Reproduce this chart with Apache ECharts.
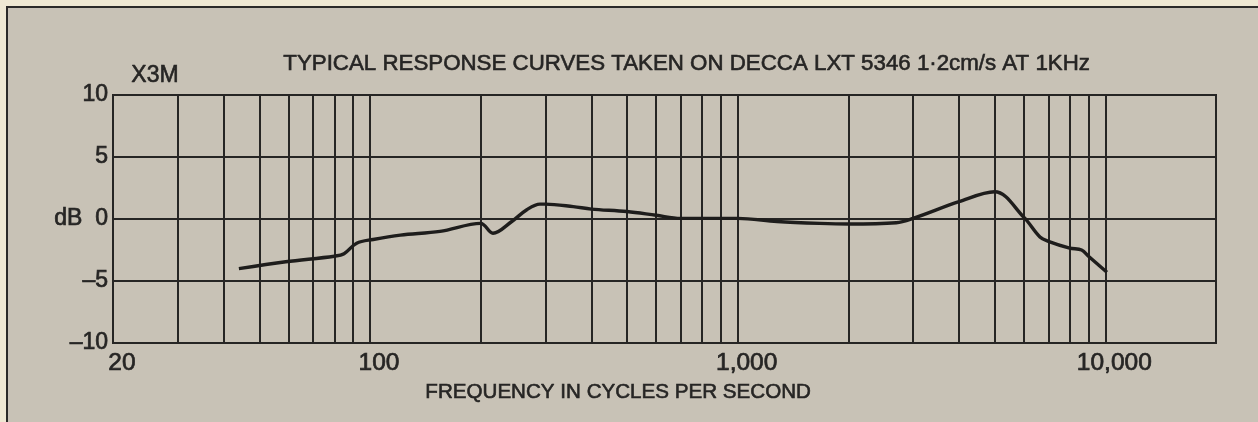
<!DOCTYPE html>
<html><head><meta charset="utf-8">
<script src="https://cdn.jsdelivr.net/npm/echarts@6/dist/echarts.min.js"></script>
<style>html,body{margin:0;padding:0;background:#efe8d3;} #c{width:1258px;height:422px;}</style>
</head><body><div id="c"></div>
<script>
// Response curve (frequency Hz, level dB)
const freqHz = [44, 59, 80, 85, 92, 102, 121, 155, 200, 216, 243, 267, 290, 300, 357, 400, 500, 600, 700, 1000, 1280, 1670, 2000, 2700, 3000, 4000, 5000, 6000, 6640, 7000, 8000, 8620, 9000, 10100];
const responseDb = [-4.0, -3.45, -3.0, -2.8, -1.95, -1.65, -1.3, -1.0, -0.35, -1.15, -0.2, 0.75, 1.2, 1.2, 1.0, 0.8, 0.6, 0.3, 0.05, 0.05, -0.2, -0.35, -0.4, -0.3, 0.05, 1.4, 2.2, 0.15, -1.45, -1.8, -2.35, -2.5, -3.0, -4.3];
// Vertical grid lines (log paper)
const gridFreqs = [30,40,50,60,70,80,90,100,200,300,400,500,600,700,800,900,1000,2000,3000,4000,5000,6000,7000,8000,9000,10000];
// Tick labels
const xTickLabels = {20: '20', 100: '100', 1000: '1,000', 10000: '10,000'};
const yTickLabels = {10: '10', 5: '5', 0: 'dB  0', '-5': '\u20135', '-10': '\u201310'};
const titleText = 'TYPICAL RESPONSE CURVES TAKEN ON DECCA LXT 5346 1\u00B72cm/s AT 1KHz';
const modelText = 'X3M';
const xAxisTitle = 'FREQUENCY IN CYCLES PER SECOND';

const ink = '#262524';
const font = '"Liberation Sans", Arial, sans-serif';
const heavy = {textBorderColor: ink, textBorderWidth: 0.7};
const chart = echarts.init(document.getElementById('c'), null, {renderer: 'canvas'});
chart.setOption({
  backgroundColor: '#efe8d3',
  animation: false,
  graphic: [
    {type: 'rect', z: -10, shape: {x: 7, y: 7, width: 1262, height: 420},
     style: {fill: '#c8c2b6', stroke: '#2b2a28', lineWidth: 2}},
    {type: 'text', left: 283, top: 53, style: Object.assign({text: titleText, font: '22.3px ' + font, fill: ink, stroke: ink, lineWidth: 0.6})},
    {type: 'text', left: 131, top: 64, style: {text: modelText, font: '23px ' + font, fill: ink, stroke: ink, lineWidth: 0.6}},
    {type: 'text', left: 425, top: 382, style: {text: xAxisTitle, font: '20.6px ' + font, fill: ink, stroke: ink, lineWidth: 0.6}}
  ],
  grid: {left: 113, right: 42, top: 95, bottom: 79, show: true, borderColor: ink, borderWidth: 2, backgroundColor: 'transparent'},
  xAxis: {
    type: 'log', logBase: 10, min: 20, max: 20000,
    axisLine: {show: false}, axisTick: {show: false}, splitLine: {show: false},
    axisLabel: Object.assign({
      margin: 8, color: ink, fontSize: 24.5, fontFamily: font, showMaxLabel: false, padding: [0, 0, 0, 18],
      formatter: v => { const r = Math.round(v); return xTickLabels[r] !== undefined ? xTickLabels[r] : ''; }
    }, heavy)
  },
  yAxis: {
    type: 'value', min: -10, max: 10, interval: 5,
    axisLine: {show: false}, axisTick: {show: false},
    splitLine: {show: true, lineStyle: {color: ink, width: 2}},
    axisLabel: Object.assign({margin: 5, color: ink, fontSize: 23, fontFamily: font,
      formatter: v => yTickLabels[String(Math.round(v))]}, heavy)
  },
  series: [
    {
      type: 'line', data: [], z: 1, silent: true,
      markLine: {silent: true, symbol: 'none', label: {show: false},
        lineStyle: {color: ink, width: 2, type: 'solid'},
        data: gridFreqs.map(f => ({xAxis: f}))}
    },
    {
      type: 'line', z: 5, showSymbol: false, smooth: 0.35,
      data: freqHz.map((f, i) => [f, responseDb[i]]),
      lineStyle: {color: '#1e1d1c', width: 3.4}
    }
  ]
});
</script></body></html>
